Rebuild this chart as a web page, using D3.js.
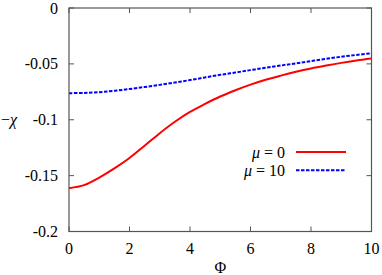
<!DOCTYPE html>
<html>
<head>
<meta charset="utf-8">
<script src="https://cdn.jsdelivr.net/npm/d3@7"></script>
<style>
  html, body { margin: 0; padding: 0; background: #fff; }
  svg text { font-family: "Times New Roman", Times, "Liberation Serif", "DejaVu Serif", serif; font-size: 16px; }
</style>
</head>
<body>
<svg id="chart"></svg>
<script>
// Phi sample points
const phi = [0, 0.5, 1, 1.5, 2, 2.5, 3, 3.5, 4, 4.5, 5, 5.5, 6, 6.5, 7, 7.5, 8, 8.5, 9, 9.5, 10]

// -chi for mu = 0
const chiMu0 =
    [ -0.1612, -0.1585, -0.1517, -0.1435, -0.1342, -0.1232, -0.1120, -0.1018, -0.0930, -0.0858
    , -0.0792, -0.0736, -0.0686, -0.0642, -0.0605, -0.0571, -0.0541, -0.0515, -0.0491, -0.0470, -0.0452 ]

// -chi for mu = 10
const chiMu10 =
    [ -0.0762, -0.0760, -0.0753, -0.0741, -0.0725, -0.0707, -0.0688, -0.0667, -0.0645, -0.0621
    , -0.0598, -0.0577, -0.0556, -0.0535, -0.0515, -0.0495, -0.0475, -0.0455, -0.0436, -0.0420, -0.0405 ]

const xTicks = [0, 2, 4, 6, 8, 10]
const yTicks = [0, -0.05, -0.1, -0.15, -0.2]
const yTickLabels = ['0', '-0.05', '-0.1', '-0.15', '-0.2']

const series =
    [ { mu: '0' , values: chiMu0 , color: '#ff0000', dash: null }
    , { mu: '10', values: chiMu10, color: '#0000ff', dash: '3.5,1.5' }
    ]

const width = 382, height = 275
const margin = { left: 69, right: 10.5, top: 8, bottom: 43.5 }

const svg = d3.select('#chart')
    .attr('width', width)
    .attr('height', height)

const x = d3.scaleLinear()
    .domain([0, 10])
    .range([margin.left, width - margin.right])

const y = d3.scaleLinear()
    .domain([-0.2, 0])
    .range([height - margin.bottom, margin.top])

const tickLen = 5
const axisColor = '#555'

// ticks on all four sides, pointing inward
const g = svg.append('g')
xTicks.forEach(t => {
    g.append('line').attr('x1', x(t)).attr('x2', x(t))
        .attr('y1', y(-0.2)).attr('y2', y(-0.2) - tickLen)
        .attr('stroke', axisColor)
    g.append('line').attr('x1', x(t)).attr('x2', x(t))
        .attr('y1', y(0)).attr('y2', y(0) + tickLen)
        .attr('stroke', axisColor)
    g.append('text')
        .attr('x', x(t)).attr('y', y(-0.2) + 22)
        .attr('text-anchor', 'middle')
        .text(t)
})
yTicks.forEach((t, i) => {
    g.append('line').attr('x1', x(0)).attr('x2', x(0) + tickLen)
        .attr('y1', y(t)).attr('y2', y(t))
        .attr('stroke', axisColor)
    g.append('line').attr('x1', x(10)).attr('x2', x(10) - tickLen)
        .attr('y1', y(t)).attr('y2', y(t))
        .attr('stroke', axisColor)
    g.append('text')
        .attr('x', x(0) - 11).attr('y', y(t) + 5.5)
        .attr('text-anchor', 'end')
        .text(yTickLabels[i])
})

// curves
const line = d3.line()
    .x((d, i) => x(phi[i]))
    .y(d => y(d))
    .curve(d3.curveCatmullRom.alpha(0.5))

series.forEach(s => {
    svg.append('path')
        .attr('d', line(s.values))
        .attr('fill', 'none')
        .attr('stroke', s.color)
        .attr('stroke-width', 2)
        .attr('stroke-dasharray', s.dash)
})

// frame
svg.append('rect')
    .attr('x', x(0)).attr('y', y(0))
    .attr('width', x(10) - x(0))
    .attr('height', y(-0.2) - y(0))
    .attr('fill', 'none')
    .attr('stroke', axisColor)
    .attr('stroke-width', 1.2)

// legend
const legend = svg.append('g')
series.forEach((s, i) => {
    const ly = 152 + i * 18.3
    const t = legend.append('text')
        .attr('x', 285).attr('y', ly + 5.5)
        .attr('text-anchor', 'end')
    t.append('tspan').attr('font-style', 'italic').text('μ')
    t.append('tspan').text(' = ' + s.mu)
    legend.append('line')
        .attr('x1', 296).attr('x2', 346)
        .attr('y1', ly).attr('y2', ly)
        .attr('stroke', s.color)
        .attr('stroke-width', 2)
        .attr('stroke-dasharray', s.dash)
})

// axis labels
svg.append('text')
    .attr('x', (x(0) + x(10)) / 2).attr('y', 273)
    .attr('text-anchor', 'middle')
    .text('Φ')
const yl = svg.append('text')
    .attr('x', 1).attr('y', y(-0.1) + 5.5)
yl.append('tspan').text('−')
yl.append('tspan').attr('font-style', 'italic').text('χ')
</script>
</body>
</html>
